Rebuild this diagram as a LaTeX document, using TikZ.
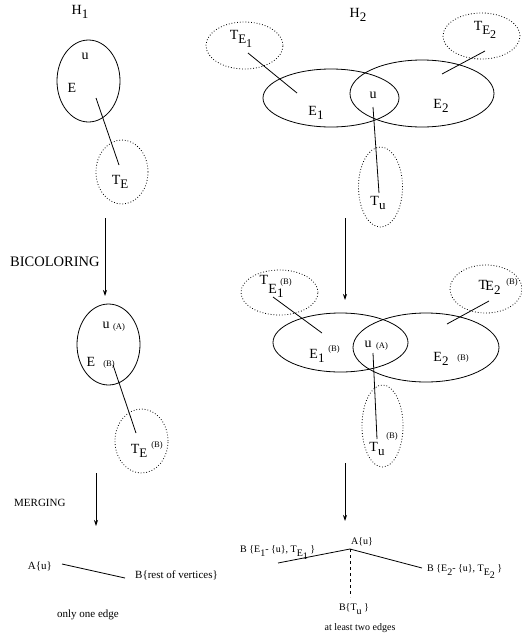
\documentclass[tikz,border=0pt]{standalone}
\usepackage{fontspec}
\setmainfont{Liberation Serif}
\usetikzlibrary{shapes.geometric,arrows.meta}
\newcommand\xs[1]{\raisebox{-4.5pt}{\fontsize{13}{14}\selectfont #1}}
\newcommand\xss[1]{\raisebox{-4pt}{\fontsize{12}{13}\selectfont #1}}
\newcommand\bs[1]{\raisebox{-3.5pt}{\fontsize{10}{11}\selectfont #1}}
\begin{document}
\begin{tikzpicture}[x=1pt,y=-1pt,
  set/.style={draw,ellipse,line width=0.8pt,inner sep=0pt},
  tree/.style={draw,ellipse,dotted,line width=0.8pt,inner sep=0pt},
  lab/.style={inner sep=0pt,font=\fontsize{14}{16}\selectfont},
  sm/.style={inner sep=0pt,font=\fontsize{8.5}{10}\selectfont},
  txt/.style={inner sep=0pt,font=\fontsize{11}{13}\selectfont},
  btxt/.style={inner sep=0pt,font=\fontsize{10}{12}\selectfont},
  link/.style={line width=0.8pt},
  arr/.style={line width=0.8pt,-{Stealth[length=6pt,width=4pt,inset=2pt]}}]
\useasboundingbox (0,0) rectangle (522,638);

% ---------- H1 top ----------
\node[lab] (h1) at (80,12) {H\xs{1}};
\node[set,minimum width=63pt,minimum height=82pt] (e) at (88.5,81) {};
\node[lab] (u1) at (85,56) {u};
\node[lab] (E1l) at (72,88) {E};
\node[tree,minimum width=52pt,minimum height=64pt] (te) at (122,172) {};
\node[lab] (te1) at (120,182) {T\xs{E}};
\coordinate (a1) at (96,98);
\coordinate (b1) at (119,165);
\draw[link] (a1) -- (b1);

% ---------- H2 top ----------
\node[lab] (h2) at (358,15) {H\xs{2}};
\node[tree,minimum width=77pt,minimum height=47pt] (tE1) at (244.5,45.5) {};
\node[lab] (tE1l) at (241,39) {T\xs{E\xss{1}}};
\node[set,minimum width=136pt,minimum height=58pt] (E1) at (331,98) {};
\node[set,minimum width=144pt,minimum height=67pt] (E2) at (422,93.5) {};
\node[lab] (u2) at (373,95) {u};
\node[lab] (E1t) at (316,113) {E\xs{1}};
\node[lab] (E2t) at (441,106) {E\xs{2}};
\node[tree,minimum width=77pt,minimum height=46pt] (tE2) at (481.5,36) {};
\node[lab] (tE2l) at (485,30) {T\xs{E\xss{2}}};
\node[tree,minimum width=44pt,minimum height=80pt] (tu) at (380.5,187) {};
\node[lab] (tul) at (378,203) {T\xs{u}};
\coordinate (a2) at (248,53);  \coordinate (b2) at (297,93);
\coordinate (a3) at (485,51);  \coordinate (b3) at (442,74);
\coordinate (a4) at (373,107); \coordinate (b4) at (379,193);
\draw[link] (a2) -- (b2);
\draw[link] (a3) -- (b3);
\draw[link] (a4) -- (b4);

% ---------- arrows 1 ----------
\coordinate (l1s) at (105,218); \coordinate (l1e) at (105,296);
\draw[arr] (l1s) -- (l1e);
\node[lab,anchor=west,font=\fontsize{14.5}{16}\selectfont] (bic) at (10,262) {BICOLORING};
\coordinate (r1s) at (345,218); \coordinate (r1e) at (345,300);
\draw[arr] (r1s) -- (r1e);

% ---------- H1 bicolored ----------
\node[set,minimum width=63pt,minimum height=81pt] (eb) at (108.5,344.5) {};
\node[lab] (ub) at (106,325) {u};
\node[sm] (ubA) at (119,327) {(A)};
\node[lab] (Eb) at (91,362) {E};
\node[sm] (EbB) at (109,364) {(B)};
\node[tree,minimum width=53pt,minimum height=64pt] (teb) at (141.5,441) {};
\node[lab] (tebl) at (139,451) {T\xs{E}};
\node[sm] (tebB) at (157,445) {(B)};
\coordinate (a5) at (113,365); \coordinate (b5) at (136,433);
\draw[link] (a5) -- (b5);

% ---------- H2 bicolored ----------
\node[tree,minimum width=77pt,minimum height=45pt] (tE1b) at (279.5,292.5) {};
\node[lab] (tE1bl) at (264,280) {T};
\node[lab] (tE1bl2) at (276,291) {E\xs{1}};
\node[sm] (tE1bB) at (286,282) {(B)};
\node[set,minimum width=135pt,minimum height=59pt] (E1b) at (340.5,342.5) {};
\node[set,minimum width=146pt,minimum height=69pt] (E2b) at (426,347.5) {};
\node[lab] (E1bl) at (317,356) {E\xs{1}};
\node[sm] (E1bB) at (334,349) {(B)};
\node[lab] (ubr) at (368,344) {u};
\node[sm] (ubrA) at (382,346) {(A)};
\node[lab] (E2bl) at (441,359) {E\xs{2}};
\node[sm] (E2bB) at (463,358) {(B)};
\node[tree,minimum width=72pt,minimum height=48pt] (tE2b) at (486,289) {};
\node[lab] (tE2bl) at (483,285) {T};
\node[lab] (tE2bl2) at (493,288) {E\xs{2}};
\node[sm] (tE2bB) at (512,282) {(B)};
\node[tree,minimum width=41pt,minimum height=82pt] (tub) at (382.5,426) {};
\node[lab] (tubl) at (377,449) {T\xs{u}};
\node[sm] (tubB) at (392,436) {(B)};
\coordinate (a6) at (273,297); \coordinate (b6) at (322,333);
\coordinate (a7) at (489,301); \coordinate (b7) at (447,324);
\coordinate (a8) at (373,353); \coordinate (b8) at (377,439);
\draw[link] (a6) -- (b6);
\draw[link] (a7) -- (b7);
\draw[link] (a8) -- (b8);

% ---------- arrows 2 ----------
\coordinate (l2s) at (96,473); \coordinate (l2e) at (96,526);
\draw[arr] (l2s) -- (l2e);
\node[txt,anchor=west] (mer) at (14,503) {MERGING};
\coordinate (r2s) at (345,463); \coordinate (r2e) at (345,521);
\draw[arr] (r2s) -- (r2e);

% ---------- merged H1 ----------
\node[txt] (Au) at (40,566) {A\{u\}};
\node[txt,anchor=west] (Brest) at (135,575) {B\{rest of vertices\}};
\coordinate (m1) at (62,564); \coordinate (m2) at (125,578);
\draw[link] (m1) -- (m2);
\node[txt] (one) at (88,615) {only one edge};

% ---------- merged H2 ----------
\node[btxt] (Au2) at (362,542) {A\{u\}};
\coordinate (c) at (350,549);
\coordinate (cl) at (278,563);
\coordinate (cr) at (422,568);
\coordinate (cd) at (350,597);
\draw[link] (cl) -- (c) -- (cr);
\draw[link,dashed] (c) -- (cd);
\node[btxt,anchor=west] (BE1) at (240,553) {B \{E\bs{1}- \{u\}, T\bs{E\bs{1}} \}};
\node[btxt,anchor=west] (BE2) at (427,572) {B \{E\bs{2}- \{u\}, T\bs{E\bs{2}} \}};
\node[btxt] (BTu) at (354,609) {B\{T\bs{u} \}};
\node[btxt] (two) at (360,628) {at least two edges};
\end{tikzpicture}
\end{document}
